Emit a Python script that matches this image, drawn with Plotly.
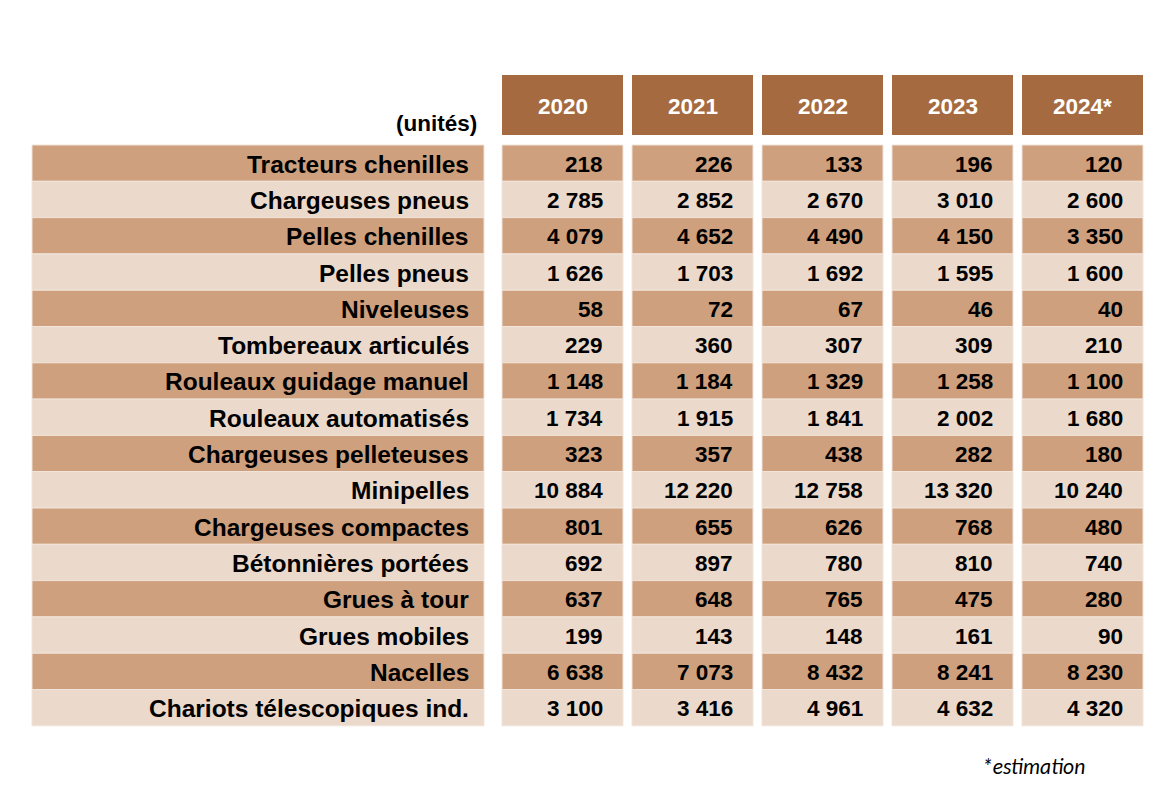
import plotly.graph_objects as go

# ---------------- data ----------------
years = ["2020", "2021", "2022", "2023", "2024*"]
categories = [
    "Tracteurs chenilles", "Chargeuses pneus", "Pelles chenilles", "Pelles pneus",
    "Niveleuses", "Tombereaux articulés", "Rouleaux guidage manuel",
    "Rouleaux automatisés", "Chargeuses pelleteuses", "Minipelles",
    "Chargeuses compactes", "Bétonnières portées", "Grues à tour",
    "Grues mobiles", "Nacelles", "Chariots télescopiques ind.",
]
v2020 = [218, 2785, 4079, 1626, 58, 229, 1148, 1734, 323, 10884, 801, 692, 637, 199, 6638, 3100]
v2021 = [226, 2852, 4652, 1703, 72, 360, 1184, 1915, 357, 12220, 655, 897, 648, 143, 7073, 3416]
v2022 = [133, 2670, 4490, 1692, 67, 307, 1329, 1841, 438, 12758, 626, 780, 765, 148, 8432, 4961]
v2023 = [196, 3010, 4150, 1595, 46, 309, 1258, 2002, 282, 13320, 768, 810, 475, 161, 8241, 4632]
v2024 = [120, 2600, 3350, 1600, 40, 210, 1100, 1680, 180, 10240, 480, 740, 280, 90, 8230, 4320]
unit_label = "(unités)"
note = "*estimation"
series = [v2020, v2021, v2022, v2023, v2024]

# ---------------- layout / style ----------------
W, H = 1170, 785
OFF = 8  # page body margin compensation
HEADER_C = "#A66A40"
DARK_C = "#CFA07E"
LIGHT_C = "#EBD9CB"
EDGE_C = "#F1E4DA"
FONT = "Liberation Sans, Arial, sans-serif"

label_x0, label_x1 = 32, 484
col_x0 = 502
col_w = 121
col_gap = 9
head_y0, head_y1 = 75, 135
body_y0 = 145
row_h = 36.3


def fmt(v):
    return f"{v:,}".replace(",", " ")


shapes = []
annotations = []

# header cells
for j, yr in enumerate(years):
    x0 = col_x0 + j * (col_w + col_gap)
    shapes.append(dict(type="rect", xref="x", yref="y", x0=x0, x1=x0 + col_w,
                       y0=head_y0, y1=head_y1, fillcolor=HEADER_C,
                       line=dict(width=0), layer="below"))
    annotations.append(dict(x=x0 + col_w / 2, y=(head_y0 + head_y1) / 2 + 1,
                            xref="x", yref="y", text=f"<b>{yr}</b>", showarrow=False,
                            xanchor="center", yanchor="middle",
                            font=dict(family=FONT, size=22.5, color="white")))

annotations.append(dict(x=479, y=123, xref="x", yref="y", text=f"<b>{unit_label}</b>",
                        showarrow=False, xanchor="right", yanchor="middle",
                        font=dict(family=FONT, size=22.5, color="black")))

# body
for i, cat in enumerate(categories):
    y0 = body_y0 + i * row_h
    y1 = y0 + row_h
    yc = (y0 + y1) / 2 + 1
    fill = DARK_C if i % 2 == 0 else LIGHT_C
    shapes.append(dict(type="rect", xref="x", yref="y", x0=label_x0, x1=label_x1,
                       y0=y0, y1=y1, fillcolor=fill,
                       line=dict(width=1, color=EDGE_C), layer="below"))
    annotations.append(dict(x=label_x1 - 13, y=yc, xref="x", yref="y",
                            text=f"<b>{cat}</b>", showarrow=False,
                            xanchor="right", yanchor="middle",
                            font=dict(family=FONT, size=24.5, color="black")))
    for j, vals in enumerate(series):
        x0 = col_x0 + j * (col_w + col_gap)
        shapes.append(dict(type="rect", xref="x", yref="y", x0=x0, x1=x0 + col_w,
                           y0=y0, y1=y1, fillcolor=fill,
                           line=dict(width=1, color=EDGE_C), layer="below"))
        annotations.append(dict(x=x0 + col_w - 18, y=yc, xref="x", yref="y",
                                text=f"<b>{fmt(vals[i])}</b>", showarrow=False,
                                xanchor="right", yanchor="middle",
                                font=dict(family=FONT, size=22.5, color="black")))

annotations.append(dict(x=1087, y=767, xref="x", yref="y", text=f"<i>{note}</i>",
                        showarrow=False, xanchor="right", yanchor="middle",
                        font=dict(family="Carlito, Lato, Open Sans, sans-serif",
                                  size=21.5, color="black")))

fig = go.Figure()
fig.add_trace(go.Scatter(x=[OFF, W + OFF], y=[OFF, H + OFF], mode="markers",
                         marker=dict(opacity=0), hoverinfo="skip", showlegend=False))
fig.update_layout(
    width=W, height=H,
    margin=dict(l=0, r=0, t=0, b=0),
    paper_bgcolor="white", plot_bgcolor="white",
    xaxis=dict(range=[OFF, W + OFF], visible=False, fixedrange=True),
    yaxis=dict(range=[H + OFF, OFF], visible=False, fixedrange=True),
    shapes=shapes, annotations=annotations, showlegend=False,
)
fig.write_html("out.html")
